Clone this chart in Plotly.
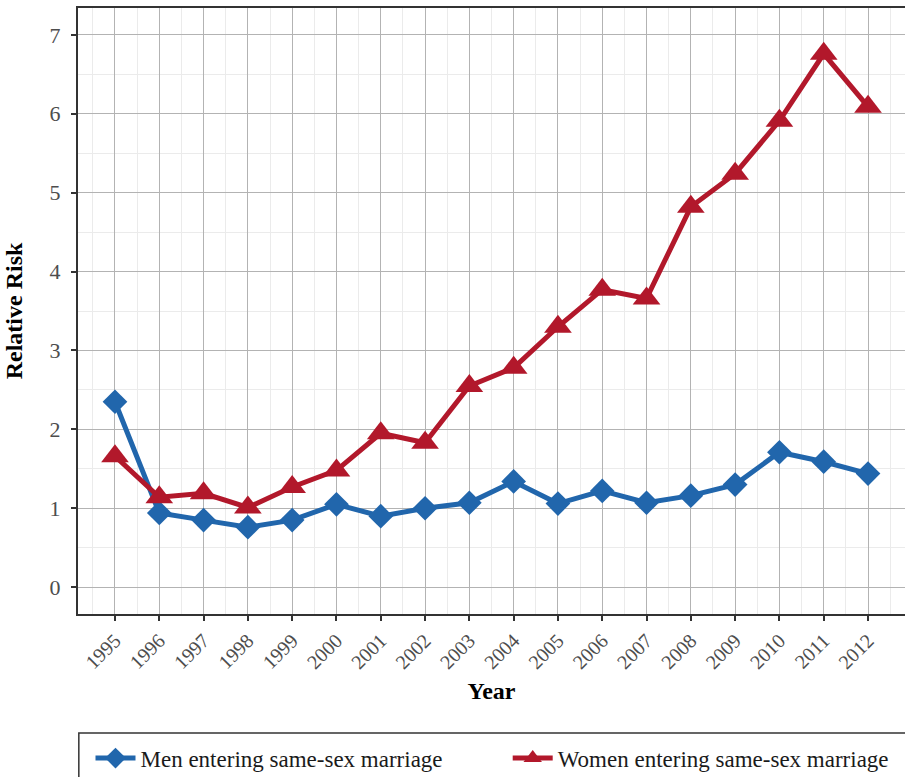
import plotly.graph_objects as go

# Relative risk of entering a same-sex marriage, by year
years = [1995, 1996, 1997, 1998, 1999, 2000, 2001, 2002, 2003, 2004,
         2005, 2006, 2007, 2008, 2009, 2010, 2011, 2012]
men_rr = [2.35, 0.94, 0.85, 0.76, 0.85, 1.05, 0.90, 1.00, 1.07, 1.34,
          1.06, 1.22, 1.07, 1.16, 1.30, 1.71, 1.59, 1.44]
women_rr = [1.66, 1.14, 1.19, 1.01, 1.27, 1.48, 1.95, 1.83, 2.55, 2.78,
            3.30, 3.77, 3.66, 4.82, 5.24, 5.91, 6.76, 6.09]
year_labels = [str(y) for y in years]
y_ticks = [0, 1, 2, 3, 4, 5, 6, 7]

BLUE = "#2166ac"
RED = "#b2182b"
FONT = "Liberation Serif"

fig = go.Figure()
fig.add_trace(go.Scatter(
    x=years, y=men_rr, mode="lines+markers",
    name="Men entering same-sex marriage",
    line=dict(color=BLUE, width=5),
    marker=dict(symbol="diamond", size=19, color=BLUE),
    legend="legend",
))
fig.add_trace(go.Scatter(
    x=years, y=women_rr, mode="lines+markers",
    name="Women entering same-sex marriage",
    line=dict(color=RED, width=5),
    marker=dict(symbol="triangle-up", size=24, color=RED),
    legend="legend2",
))

# legend frame running off the right and bottom edges
fig.add_shape(type="rect", xref="paper", yref="paper",
              x0=0.001, x1=1.05, y0=-0.3, y1=-0.1965,
              line=dict(color="#333333", width=1.5), fillcolor="rgba(0,0,0,0)")

legend_style = dict(
    orientation="h", xref="container", yref="container",
    xanchor="left", y=0.052, yanchor="top",
    borderwidth=0, bgcolor="rgba(0,0,0,0)",
    font=dict(family=FONT, size=23, color="#1a1a1a"),
    itemwidth=40,
)

fig.update_layout(
    width=905, height=777,
    margin=dict(l=78, r=0, t=8, b=163, autoexpand=False),
    paper_bgcolor="white", plot_bgcolor="white",
    font=dict(family=FONT, size=18, color="#4d4d4d"),
    showlegend=True,
    legend=dict(x=0.1, **legend_style),
    legend2=dict(x=0.561, **legend_style),
)

fig.update_xaxes(
    range=[1994.165, 2012.835], automargin=False,
    tickmode="array", tickvals=years, ticktext=year_labels,
    tickangle=-45, tickfont=dict(size=20, color="#4d4d4d"),
    ticks="outside", ticklen=5, tickwidth=1.5, tickcolor="#333333",
    showline=True, linecolor="#333333", linewidth=2, mirror=True,
    showgrid=True, gridcolor="#b3b3b3", gridwidth=1.3,
    minor=dict(dtick=0.5, tick0=1994.5, showgrid=True,
               gridcolor="#ebebeb", gridwidth=1),
    zeroline=False,
    title=dict(text="<b>Year</b>", font=dict(size=24, color="#000000"),
               standoff=10),
)
fig.update_yaxes(
    range=[-0.34, 7.34], automargin=False,
    tickmode="array", tickvals=y_ticks,
    tickfont=dict(size=22, color="#4d4d4d"),
    ticklabelstandoff=6,
    ticks="outside", ticklen=5, tickwidth=1.5, tickcolor="#333333",
    showline=True, linecolor="#333333", linewidth=2,
    showgrid=True, gridcolor="#b3b3b3", gridwidth=1.3,
    minor=dict(dtick=0.5, tick0=0.5, showgrid=True,
               gridcolor="#ebebeb", gridwidth=1),
    zeroline=False,
    title=dict(text="<b>Relative Risk</b>", font=dict(size=24, color="#000000"),
               standoff=20),
)

fig.write_html("out.html")
